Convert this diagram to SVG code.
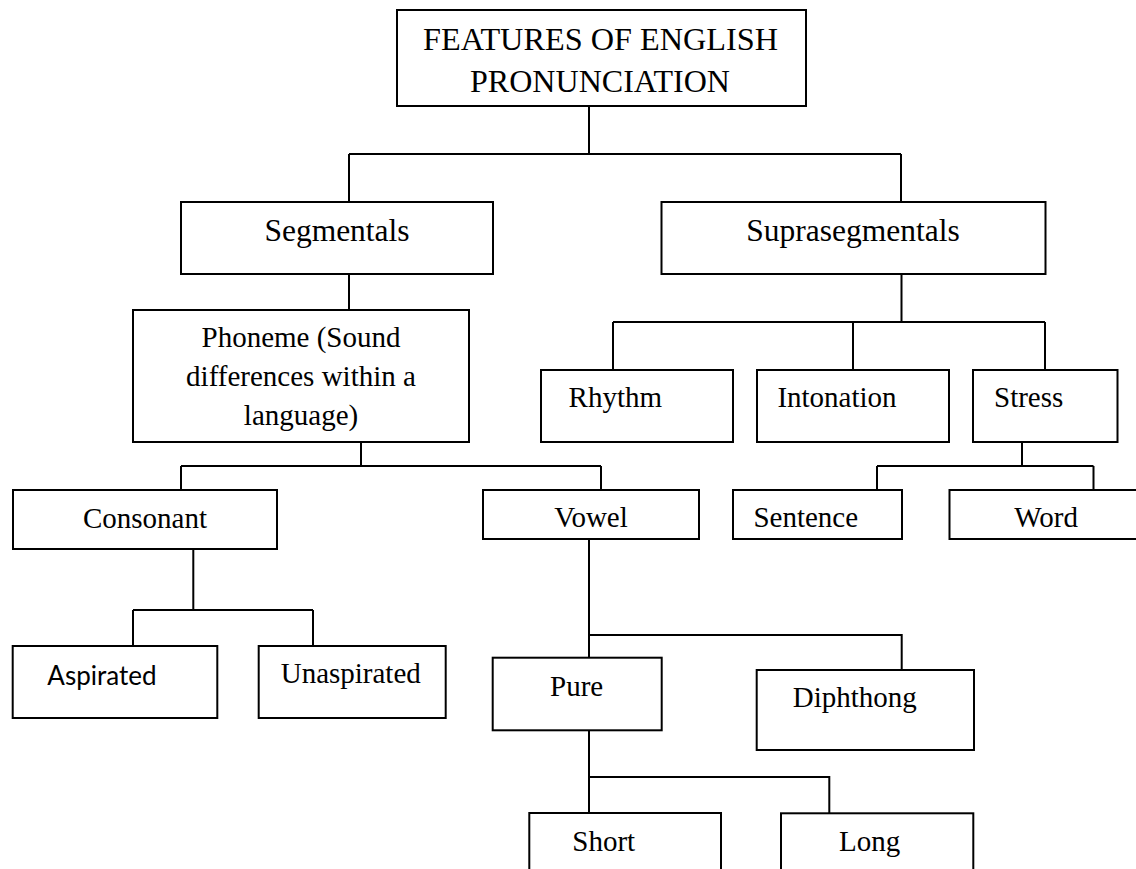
<svg xmlns="http://www.w3.org/2000/svg" width="1136" height="869" viewBox="0 0 1136 869">
<style>
rect{fill:#fff;stroke:#000;stroke-width:2}
.c path{fill:none;stroke:#000;stroke-width:2}
text{font-family:"Liberation Serif","Times New Roman",serif;font-size:29px;fill:#000}
.m{text-anchor:middle}
.big{font-size:31.5px}
.sans{font-family:Lato,"Liberation Sans",sans-serif;font-size:26px}
</style>
<rect x="0" y="0" width="1136" height="869" style="stroke:none"/>
<g class="c" id="connectors">
<path d="M589,106V154M349,154H901M349,154V202M901,154V202"/>
<path d="M349,274V310"/>
<path d="M901.5,274V322M613,322H1045M613,322V370M853,322V370M1045,322V370"/>
<path d="M361,442V466M181,466H601M181,466V490M601,466V490"/>
<path d="M1022,442V466M877,466H1093.5M877,466V490M1093.5,466V490"/>
<path d="M193.3,549V610M133,610H313M133,610V646M313,610V646"/>
<path d="M589,539V658M589,635H901.7V670"/>
<path d="M589,730V813M589,777H829.3V813"/>
</g>
<g id="root"><rect x="397" y="10" width="409" height="96"/>
<text class="m big" x="600.5" y="50" textLength="355" lengthAdjust="spacingAndGlyphs">FEATURES OF ENGLISH</text>
<text class="m big" x="600" y="92" textLength="260" lengthAdjust="spacingAndGlyphs">PRONUNCIATION</text></g>
<g id="segmentals"><rect x="181" y="202" width="312" height="72"/><text class="m big" x="337" y="241">Segmentals</text></g>
<g id="suprasegmentals"><rect x="661.5" y="202" width="384" height="72"/><text class="m big" x="853" y="241">Suprasegmentals</text></g>
<g id="phoneme"><rect x="133" y="310" width="336" height="132"/>
<text class="m" x="301" y="347">Phoneme (Sound</text>
<text class="m" x="301" y="386">differences within a</text>
<text class="m" x="301" y="425">language)</text></g>
<g id="rhythm"><rect x="541" y="370" width="192" height="72"/><text x="568.6" y="407">Rhythm</text></g>
<g id="intonation"><rect x="757" y="370" width="192" height="72"/><text x="777.4" y="407">Intonation</text></g>
<g id="stress"><rect x="973" y="370" width="144.5" height="72"/><text x="994" y="407">Stress</text></g>
<g id="consonant"><rect x="13" y="490" width="264" height="59"/><text class="m" x="145" y="528">Consonant</text></g>
<g id="vowel"><rect x="483" y="490" width="216" height="49"/><text class="m" x="591" y="527">Vowel</text></g>
<g id="sentence"><rect x="733" y="490" width="169" height="49"/><text x="753.4" y="527">Sentence</text></g>
<g id="word"><rect x="949.5" y="490" width="200" height="49"/><text x="1014.3" y="527">Word</text></g>
<g id="aspirated"><rect x="12.7" y="646" width="204.6" height="72"/><text class="sans" x="47.3" y="685">Aspirated</text></g>
<g id="unaspirated"><rect x="258.7" y="646" width="187" height="72"/><text x="280.7" y="683.3">Unaspirated</text></g>
<g id="pure"><rect x="492.7" y="657.7" width="169" height="72.6"/><text x="550" y="695.7">Pure</text></g>
<g id="diphthong"><rect x="756.7" y="670" width="217.3" height="80"/><text x="792.7" y="706.7">Diphthong</text></g>
<g id="short"><rect x="529.3" y="813" width="191.7" height="70"/><text x="572.3" y="851">Short</text></g>
<g id="long"><rect x="781" y="813.3" width="192.3" height="70"/><text x="839" y="851">Long</text></g>
</svg>
